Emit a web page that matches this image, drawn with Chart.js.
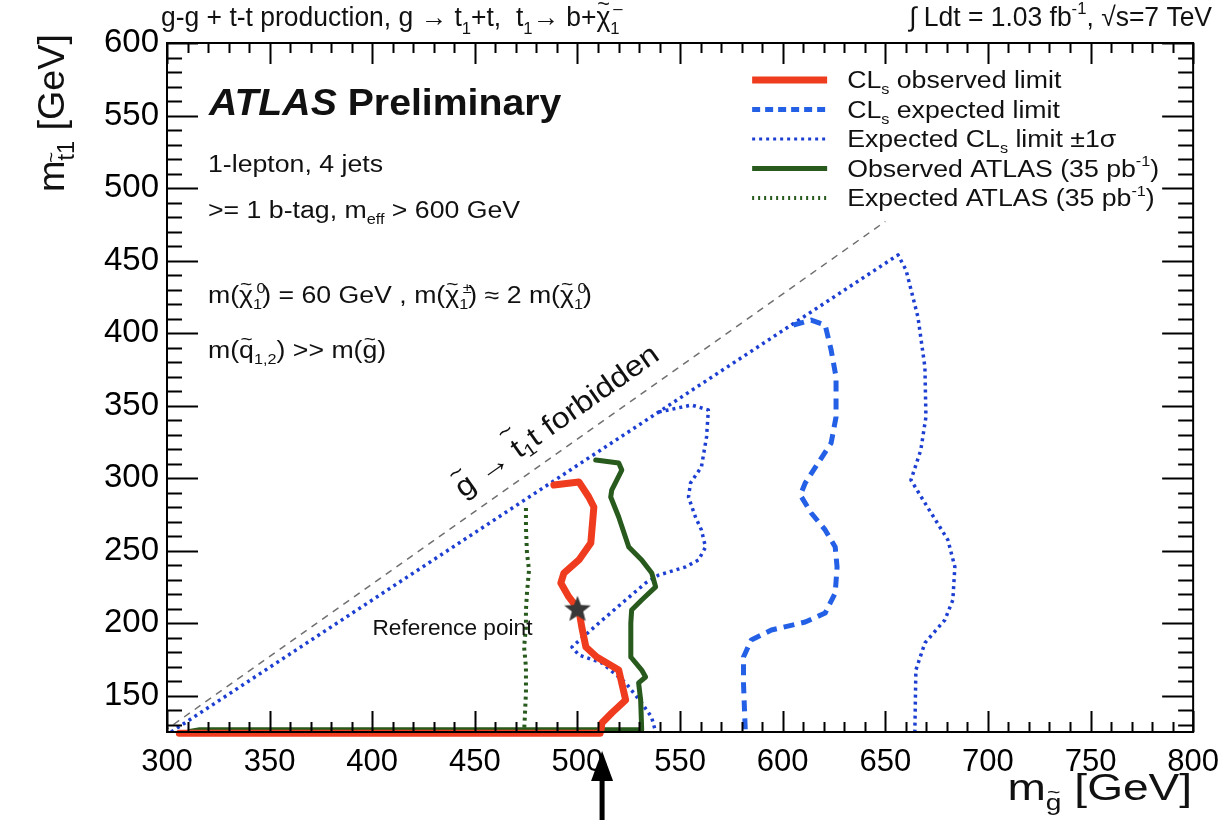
<!DOCTYPE html>
<html>
<head>
<meta charset="utf-8">
<script src="https://cdn.jsdelivr.net/npm/chart.js@4.4.0/dist/chart.umd.min.js"></script>
<style>
  html, body { margin: 0; background: #fff; }
  #wrap { width: 1231px; height: 820px; position: relative; }
</style>
</head>
<body>
<div id="wrap"><canvas id="limitChart"></canvas></div>
<script>
// ticks
const xTicks = [300, 350, 400, 450, 500, 550, 600, 650, 700, 750, 800];
const yTicks = [150, 200, 250, 300, 350, 400, 450, 500, 550, 600];

// kinematic limit m(gluino) = m(stop) + m(top)
const kinX = [298, 650];
const kinY = [125, 477];

// CLs observed limit
const obsX = [488.5, 500.7, 505.5, 508.0, 506.5, 500.7, 493.4, 491.9, 495.8, 500.7, 502.1, 504.1, 509.4, 520.1, 523.5, 516.7, 511.9, 511.4, 511.0, 306];
const obsY = [295.3, 297.4, 287.0, 280.1, 255.3, 243.6, 234.6, 227.7, 218.1, 209.1, 197.4, 183.6, 176.7, 167.7, 147.1, 138.1, 131.2, 125.7, 124.2, 124.2];

// CLs expected limit
const expX = [605.2, 613.9, 620.7, 623.6, 626.0, 626.0, 623.6, 617.3, 611.0, 608.6, 613.9, 620.7, 625.6, 626.5, 625.6, 620.7, 611.0, 594.5, 584.7, 580.9, 580.9, 581.8];
const expY = [405.6, 409.0, 405.6, 388.4, 369.7, 342.2, 324.2, 310.5, 296.7, 288.4, 276.0, 264.3, 252.5, 238.8, 220.8, 207.0, 200.8, 195.3, 188.4, 176.7, 158.8, 125];

// expected +1 sigma
const upX = [302, 656.2, 660.1, 665.9, 669.3, 669.8, 667.3, 662.5, 669.3, 680.5, 683.9, 682.9, 679.0, 669.3, 664.9, 664.4];
const upY = [125, 453.9, 443.5, 411.1, 376.6, 342.2, 319.4, 298.7, 282.9, 257.4, 238.8, 216.0, 202.2, 186.4, 167.7, 125];

// expected -1 sigma
const dnX = [539.6, 555.6, 563.8, 562.9, 560.4, 555.1, 554.1, 557.5, 560.4, 562.4, 559.0, 552.7, 539.6, 533.2, 523.5, 510.4, 497.3, 500.7, 511.9, 523.5, 531.3, 536.1, 538.1];
const dnY = [345.6, 350.4, 347.0, 328.4, 307.7, 296.7, 287.0, 273.2, 264.3, 252.5, 243.6, 238.8, 233.2, 227.7, 216.0, 200.1, 183.6, 178.1, 172.6, 158.8, 145.0, 135.3, 125];

// ATLAS 35 pb-1 observed / expected
const oldObsX = [508.9, 520.1, 521.6, 516.7, 516.2, 520.1, 525.0, 531.3, 536.2, 538.1, 531.3, 526.4, 526.0, 526.0, 531.3, 533.2, 529.8, 530.8, 531.3, 316, 311];
const oldObsY = [312.5, 310.5, 305.6, 291.8, 287.0, 273.2, 252.5, 243.6, 234.6, 225.0, 216.0, 209.1, 200.1, 176.7, 167.7, 162.9, 158.8, 147.1, 126.6, 126.6, 125.3];
const oldExpX = [474.9, 474.9, 475.4, 476.4, 475.4, 474.9, 474.9, 474.0, 474.9, 474.9, 474.0];
const oldExpY = [279.4, 266.3, 248.4, 236.7, 220.8, 209.1, 197.4, 183.6, 169.8, 151.9, 125];

// reference point and arrow below the axis
const refX = [500];
const refY = [210];
const arrowX = 512;

const FONT = '"Liberation Sans", Arial, Helvetica, sans-serif';
const RED = '#f03c1e';
const BLUE_DASH = '#2360e6';
const BLUE_DOT = '#1c3fd2';
const GREEN = '#275a1c';
const TILDE = '\u0303';

const pts = (xs, ys) => xs.map((x, i) => ({ x: x, y: ys[i] }));

// filled star for the reference point
const star = document.createElement('canvas');
star.width = 30; star.height = 30;
(function () {
  const s = star.getContext('2d');
  s.fillStyle = '#383838';
  s.beginPath();
  for (let i = 0; i < 10; i++) {
    const r = i % 2 === 0 ? 14 : 6;
    const a = -Math.PI / 2 + i * Math.PI / 5;
    s.lineTo(15 + r * Math.cos(a), 16 + r * Math.sin(a));
  }
  s.closePath();
  s.fill();
})();

// text with sub/superscripts: runs = [text, kind]; kind ending in 0 = no advance
// a letter followed by TILDE gets a tilde drawn over it by hand
// sx stretches the text horizontally (the reference picture is a bit wide)
function drawRich(ctx, runs, x, y, size, align, sx, weight) {
  weight = weight || '';
  sx = sx || 1;
  const sizeOf = (k) => k ? Math.round(size * 0.62) : size;
  const fontOf = (fs) => weight + ' ' + fs + 'px ' + FONT;
  const plain = (t) => t.split(TILDE).join('');
  let total = 0;
  runs.forEach(r => {
    ctx.font = fontOf(sizeOf(r[1]));
    if (!(r[1] || '').endsWith('0')) total += ctx.measureText(plain(r[0])).width;
  });

  const put = (t, x0, y0, fs) => {
    if (t.indexOf(TILDE) < 0) { ctx.fillText(t, x0, y0); return; }
    let cx = x0;
    for (let i = 0; i < t.length; i++) {
      const c = t[i];
      if (c === TILDE) continue;
      ctx.font = fontOf(fs);
      ctx.fillText(c, cx, y0);
      const w = ctx.measureText(c).width;
      if (t[i + 1] === TILDE) {
        const f = Math.round(fs * 0.8);
        ctx.font = fontOf(f);
        const tw = ctx.measureText('~').width;
        const h = (c === 't' ? 0.98 : 0.8) * fs - 0.3 * f;
        ctx.fillText('~', cx + w / 2 - tw / 2, y0 - h);
        ctx.font = fontOf(fs);
      }
      cx += w;
    }
  };

  ctx.save();
  ctx.translate(x, y);
  ctx.scale(sx, 1);
  let cx = align === 'right' ? -total : 0;
  ctx.textAlign = 'left';
  runs.forEach(r => {
    const k = r[1] || '';
    const fs = sizeOf(k);
    ctx.font = fontOf(fs);
    let dy = 0, dx = 0;
    if (k.startsWith('sub')) dy = size * 0.28;
    if (k.startsWith('sup')) { dy = -size * 0.45; dx = k.endsWith('0') ? 3 : 0; }
    put(r[0], cx + dx, dy, fs);
    ctx.font = fontOf(fs);
    if (!k.endsWith('0')) cx += ctx.measureText(plain(r[0])).width;
  });
  ctx.restore();
}

const legendRows = [
  { runs: [['CL'], ['s', 'sub'], [' observed limit']], color: RED, width: 7, dash: [] },
  { runs: [['CL'], ['s', 'sub'], [' expected limit']], color: BLUE_DASH, width: 5, dash: [8, 5] },
  { runs: [['Expected CL'], ['s', 'sub'], [' limit \u00b11\u03c3']], color: BLUE_DOT, width: 3, dash: [3, 4] },
  { runs: [['Observed ATLAS (35 pb'], ['-1', 'sup'], [')']], color: GREEN, width: 5, dash: [] },
  { runs: [['Expected ATLAS (35 pb'], ['-1', 'sup'], [')']], color: GREEN, width: 4, dash: [2, 4] }
];

const decor = {
  id: 'decor',
  beforeDraw(chart) {
    const ctx = chart.ctx;
    ctx.save();
    ctx.fillStyle = '#fff';
    ctx.fillRect(0, 0, chart.width, chart.height);
    ctx.restore();
  },
  afterDatasetsDraw(chart) {
    const ctx = chart.ctx;
    const ca = chart.chartArea;
    const xs = chart.scales.x, ys = chart.scales.y;
    ctx.save();
    ctx.strokeStyle = '#000';
    ctx.lineWidth = 2;
    ctx.strokeRect(ca.left, ca.top, ca.right - ca.left, ca.bottom - ca.top);
    // inward ticks, minor every 10 GeV
    ctx.beginPath();
    for (let v = xs.min; v <= xs.max; v += 10) {
      const px = Math.round(xs.getPixelForValue(v)) + 0.5;
      const len = v % 50 === 0 ? 21 : 10;
      ctx.moveTo(px, ca.bottom); ctx.lineTo(px, ca.bottom - len);
      ctx.moveTo(px, ca.top); ctx.lineTo(px, ca.top + len);
    }
    for (let v = 130; v <= ys.max; v += 10) {
      const py = Math.round(ys.getPixelForValue(v)) + 0.5;
      const len = v % 50 === 0 ? 31 : 15;
      ctx.moveTo(ca.left, py); ctx.lineTo(ca.left + len, py);
      ctx.moveTo(ca.right, py); ctx.lineTo(ca.right - len, py);
    }
    ctx.stroke();
    ctx.restore();
  },
  afterDraw(chart) {
    const ctx = chart.ctx;
    const ca = chart.chartArea;
    const xs = chart.scales.x, ys = chart.scales.y;
    ctx.save();
    ctx.fillStyle = '#111';
    ctx.textBaseline = 'alphabetic';

    // header
    drawRich(ctx, [['g-g + t-t production, g \u2192 t'], ['1', 'sub'], ['+t,  t'], ['1', 'sub'],
      ['\u2192 b+\u03c7' + TILDE], ['\u2013', 'sup0'], ['1', 'sub']], ca.left - 6, 26, 27, 'left', 0.98);
    drawRich(ctx, [['\u222b Ldt = 1.03 fb'], ['-1', 'sup'], [', \u221as=7 TeV']], 1212, 26, 27, 'right', 0.98);

    // ATLAS label and selection text
    ctx.save();
    ctx.translate(209, 115);
    ctx.scale(1.06, 1);
    ctx.font = 'italic bold 37px ' + FONT;
    ctx.fillText('ATLAS', 0, 0);
    const wA = ctx.measureText('ATLAS ').width;
    ctx.font = 'bold 37px ' + FONT;
    ctx.fillText('Preliminary', wA, 0);
    ctx.restore();

    const sxT = 1.16;
    const chi = '\u03c7' + TILDE;
    drawRich(ctx, [['1-lepton, 4 jets']], 208, 172, 23, 'left', sxT);
    drawRich(ctx, [['>= 1 b-tag, m'], ['eff', 'sub'], [' > 600 GeV']], 208, 218, 23, 'left', sxT);
    drawRich(ctx, [['m(' + chi], ['0', 'sup0'], ['1', 'sub'], [') = 60 GeV , m(' + chi], ['\u00b1', 'sup0'], ['1', 'sub'],
      [') \u2248 2 m(' + chi], ['0', 'sup0'], ['1', 'sub'], [')']], 208, 303, 23, 'left', sxT);
    drawRich(ctx, [['m(q' + TILDE], ['1,2', 'sub'], [') >> m(g' + TILDE + ')']], 208, 358, 23, 'left', sxT);

    // legend
    legendRows.forEach((row, i) => {
      const y = 80 + i * 29.5;
      ctx.save();
      ctx.strokeStyle = row.color;
      ctx.lineWidth = row.width;
      ctx.setLineDash(row.dash);
      ctx.beginPath();
      ctx.moveTo(ca.right - 441, y);
      ctx.lineTo(ca.right - 366, y);
      ctx.stroke();
      ctx.restore();
      drawRich(ctx, row.runs, ca.right - 346, y + 8, 23, 'left', 1.16);
    });

    // forbidden region label along the kinematic line
    const p0x = xs.getPixelForValue(kinX[0]), p0y = ys.getPixelForValue(kinY[0]);
    const p1x = xs.getPixelForValue(kinX[1]), p1y = ys.getPixelForValue(kinY[1]);
    const ang = Math.atan2(p1y - p0y, p1x - p0x);
    ctx.save();
    ctx.translate(xs.getPixelForValue(442), ys.getPixelForValue(290.5));
    ctx.rotate(ang);
    ctx.textBaseline = 'middle';
    drawRich(ctx, [['g' + TILDE + ' \u2192 t' + TILDE], ['1', 'sub'], ['t forbidden']], 0, 0, 29, 'left', 1.12);
    ctx.restore();

    // reference point label
    const sx = xs.getPixelForValue(refX[0]), sy = ys.getPixelForValue(refY[0]);
    drawRich(ctx, [['Reference point']], sx - 45, sy + 26, 22, 'right', 1.03);

    // axis titles
    drawRich(ctx, [['m'], ['g' + TILDE, 'sub'], [' [GeV]']], ca.right - 1, 800, 36, 'right', 1.28);
    ctx.save();
    ctx.translate(64, 192);
    ctx.rotate(-Math.PI / 2);
    drawRich(ctx, [['m'], ['t' + TILDE, 'sub'], ['1', 'sub'], [' [GeV]']], 0, 0, 37, 'left', 1.02);
    ctx.restore();

    // arrow under the axis
    const ax = xs.getPixelForValue(arrowX);
    ctx.fillStyle = '#000';
    ctx.fillRect(ax - 2.5, 778, 5, 42);
    ctx.beginPath();
    ctx.moveTo(ax, 751);
    ctx.lineTo(ax - 11, 781);
    ctx.lineTo(ax + 11, 781);
    ctx.closePath();
    ctx.fill();
    ctx.restore();
  }
};

const lineSet = (data, color, width, dash, extra) => Object.assign({
  data: data,
  showLine: true,
  borderColor: color,
  borderWidth: width,
  borderDash: dash,
  pointRadius: 0,
  fill: false,
  tension: 0,
  borderJoinStyle: 'round',
  borderCapStyle: dash.length ? 'butt' : 'round'
}, extra || {});

new Chart(document.getElementById('limitChart'), {
  type: 'scatter',
  data: {
    datasets: [
      { data: pts(refX, refY), pointStyle: star, pointRadius: 14, showLine: false },
      lineSet(pts(obsX, obsY), RED, 7, [], { clip: false }),
      lineSet(pts(oldObsX, oldObsY), GREEN, 5, [], { clip: false }),
      lineSet(pts(oldExpX, oldExpY), GREEN, 4, [3, 4]),
      lineSet(pts(expX, expY), BLUE_DASH, 5, [11, 7]),
      lineSet(pts(dnX, dnY), BLUE_DOT, 3.5, [3, 4]),
      lineSet(pts(upX, upY), BLUE_DOT, 3.5, [3, 4]),
      lineSet(pts(kinX, kinY), '#707070', 1.5, [7, 6])
    ]
  },
  options: {
    responsive: true,
    maintainAspectRatio: false,
    animation: false,
    events: [],
    layout: { padding: { top: 43, right: 35, left: 0, bottom: 0 } },
    plugins: { legend: { display: false }, tooltip: { enabled: false } },
    scales: {
      x: {
        type: 'linear', min: 300, max: 800,
        afterFit: s => { s.height = 88; },
        afterBuildTicks: s => { s.ticks = xTicks.map(v => ({ value: v })); },
        grid: { display: false, drawTicks: false },
        border: { display: false },
        ticks: { color: '#000', font: { size: 31, family: FONT }, padding: 12, autoSkip: false, maxRotation: 0 }
      },
      y: {
        type: 'linear', min: 125, max: 600,
        afterFit: s => { s.width = 167; },
        afterBuildTicks: s => { s.ticks = yTicks.map(v => ({ value: v })); },
        grid: { display: false, drawTicks: false },
        border: { display: false },
        ticks: { color: '#000', font: { size: 33, family: FONT }, padding: 8 }
      }
    }
  },
  plugins: [decor]
});
</script>
</body>
</html>
